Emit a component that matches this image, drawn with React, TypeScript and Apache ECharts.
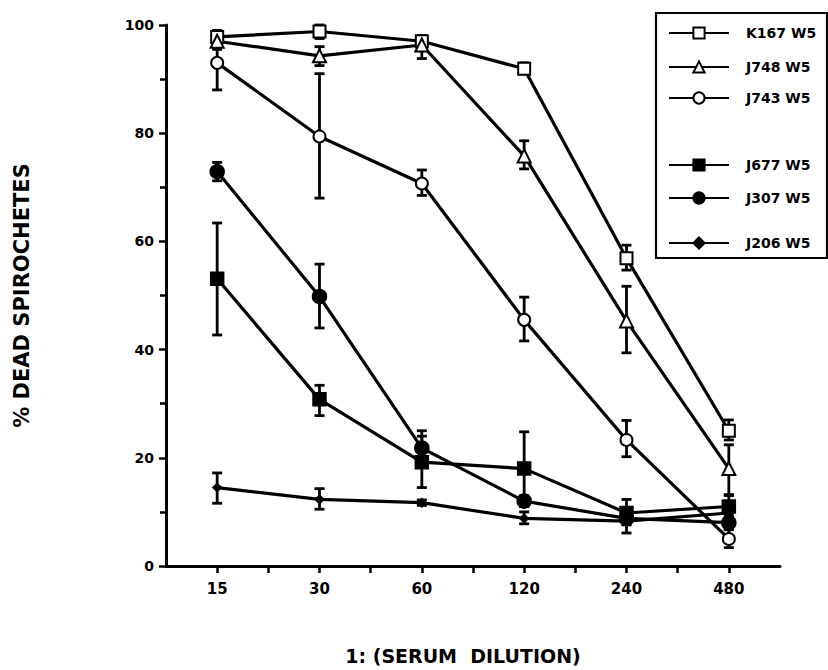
import React, { useEffect, useRef } from "react";
import * as echarts from "echarts";

const categories = ["15", "30", "60", "120", "240", "480"];
const seriesNames = ["K167 W5", "J748 W5", "J743 W5", "J677 W5", "J307 W5", "J206 W5"];

const k167 = [97.8, 98.8, 97, 91.9, 56.9, 25];
const k167Low = [96.5, 97.5, 95.5, 91, 54.7, 23.3];
const k167High = [99, 100, 98, 93, 59.3, 27];

const j748 = [97, 94.3, 96.3, 75.8, 45.3, 18];
const j748Low = [95.5, 92.5, 93.8, 73.4, 39.4, 13];
const j748High = [98.5, 96, 98, 78.6, 51.7, 22.4];

const j743 = [93, 79.4, 70.7, 45.5, 23.3, 5];
const j743Low = [88, 68, 68.5, 41.6, 20.2, 3.4];
const j743High = [97, 91, 73.2, 49.7, 26.9, 6.7];

const j677 = [53.1, 30.8, 19.2, 18, 9.8, 11];
const j677Low = [42.7, 27.8, 14.5, 11, 7.6, 9];
const j677High = [63.4, 33.4, 24, 24.8, 12.3, 13.2];

const j307 = [72.9, 49.8, 21.8, 12, 8.8, 8];
const j307Low = [71.2, 44, 19.5, 11, 7.8, 7];
const j307High = [74.6, 55.8, 25, 13, 10, 9.5];

const j206 = [14.5, 12.3, 11.7, 8.8, 8.3, 9.8];
const j206Low = [11.6, 10.5, 11.2, 7.8, 6.1, 8.8];
const j206High = [17.2, 14.3, 12.2, 10, 9.5, 10.8];

const yTicks = [0, 20, 40, 60, 80, 100];

const FONT = "DejaVu Sans";

export default function App() {
  const ref = useRef<HTMLDivElement>(null);
  useEffect(() => {
    if (!ref.current) return;
    const chart = echarts.init(ref.current, null, { renderer: "svg" });

    const xPos = (i: number) => 2 * i + 1;
    const values = [k167, j748, j743, j677, j307, j206];
    const lows = [k167Low, j748Low, j743Low, j677Low, j307Low, j206Low];
    const highs = [k167High, j748High, j743High, j677High, j307High, j206High];
    const symbols = ["emptyRect", "emptyTriangle", "emptyCircle", "rect", "circle", "diamond"];
    const symbolSizes = [12, 13, 12, 12, 13, 7];
    const legendRows = [28, 62, 93, 160, 193, 238];

    const lineSeries = seriesNames.map((name, s) => ({
      name,
      type: "line",
      data: values[s].map((v, i) => [xPos(i), v]),
      symbol: symbols[s],
      symbolSize: symbolSizes[s],
      showSymbol: true,
      z: 3,
      lineStyle: { color: "#000", width: 3.2 },
      itemStyle: { color: "#000", borderColor: "#000", borderWidth: 2.5 },
    }));

    const errSeries = seriesNames.map((name, s) => ({
      name: name + " err",
      type: "custom",
      z: 2,
      data: values[s].map((_, i) => [xPos(i), lows[s][i], highs[s][i]]),
      renderItem: (_params: any, api: any) => {
        const x = api.value(0);
        const p1 = api.coord([x, api.value(1)]);
        const p2 = api.coord([x, api.value(2)]);
        const w = 5;
        const st = { stroke: "#000", lineWidth: 2.8 };
        return {
          type: "group",
          children: [
            { type: "line", shape: { x1: p1[0], y1: p1[1], x2: p2[0], y2: p2[1] }, style: st },
            { type: "line", shape: { x1: p1[0] - w, y1: p1[1], x2: p1[0] + w, y2: p1[1] }, style: st },
            { type: "line", shape: { x1: p2[0] - w, y1: p2[1], x2: p2[0] + w, y2: p2[1] }, style: st },
          ],
        };
      },
    }));

    const legends = seriesNames.map((name, s) => ({
      show: true,
      data: [name],
      left: 663,
      top: legendRows[s] - 7,
      itemWidth: 60,
      itemHeight: 14,
      selectedMode: false,
      textStyle: {
        fontFamily: FONT,
        fontWeight: "bold",
        fontSize: 14,
        color: "#000",
        padding: [0, 0, 0, 12],
      },
    }));

    chart.setOption({
      animation: false,
      backgroundColor: "#fff",
      grid: { left: 166, right: 48, top: 25, bottom: 100 },
      legend: legends,
      graphic: [
        {
          type: "rect",
          shape: { x: 656, y: 13, width: 171, height: 245 },
          style: { fill: "none", stroke: "#000", lineWidth: 2.2 },
          z: 10,
        },
      ],
      xAxis: {
        type: "value",
        min: 0,
        max: 12,
        interval: 1,
        name: "1: (SERUM  DILUTION)",
        nameLocation: "middle",
        nameGap: 80,
        nameTextStyle: {
          fontFamily: FONT,
          fontWeight: "bold",
          fontSize: 19,
          color: "#000",
          padding: [0, 20, 0, 0],
        },
        axisLine: { lineStyle: { color: "#000", width: 3 } },
        axisTick: { show: true, inside: false, length: 7, lineStyle: { color: "#000", width: 2.5 } },
        splitLine: { show: false },
        axisLabel: {
          margin: 15,
          fontFamily: FONT,
          fontWeight: "bold",
          fontSize: 15,
          color: "#000",
          showMinLabel: false,
          showMaxLabel: false,
          formatter: (v: number) => (v % 2 === 1 ? categories[(v - 1) / 2] ?? "" : ""),
        },
      },
      yAxis: {
        type: "value",
        min: 0,
        max: 100,
        interval: 20,
        name: "% DEAD SPIROCHETES",
        nameLocation: "middle",
        nameGap: 134,
        nameTextStyle: {
          fontFamily: FONT,
          fontWeight: "bold",
          fontSize: 21,
          color: "#000",
        },
        axisLine: { show: true, lineStyle: { color: "#000", width: 3 } },
        axisTick: { show: true, inside: false, length: 7, lineStyle: { color: "#000", width: 2.5 } },
        minorTick: { show: true, splitNumber: 2, length: 6, lineStyle: { color: "#000", width: 2.5 } },
        splitLine: { show: false },
        axisLabel: {
          margin: 12,
          fontFamily: FONT,
          fontWeight: "bold",
          fontSize: 14,
          color: "#000",
          formatter: (v: number) => (yTicks.includes(v) ? String(v) : ""),
        },
      },
      series: [...errSeries, ...lineSeries],
    });
    return () => chart.dispose();
  }, []);
  return (
    <div
      ref={ref}
      style={{ position: "absolute", left: 0, top: 0, width: 828, height: 670 }}
    />
  );
}
